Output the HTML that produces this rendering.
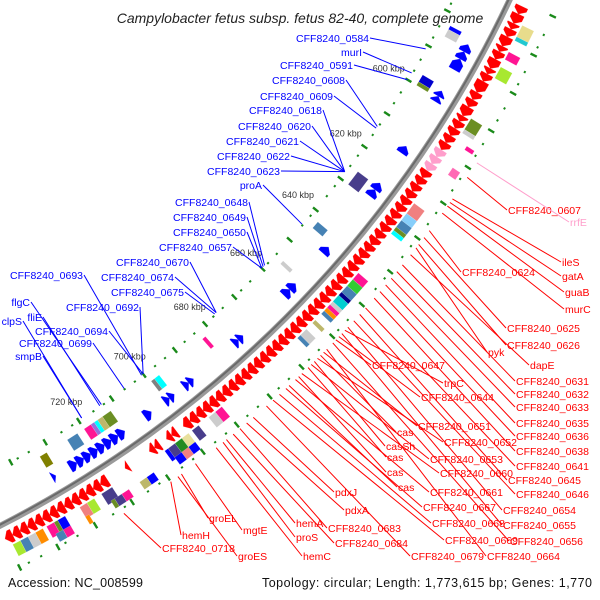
<!DOCTYPE html>
<html><head><meta charset="utf-8"><style>
html,body{margin:0;padding:0;background:#fff;width:600px;height:600px;overflow:hidden}
svg{display:block}
text{font-family:"Liberation Sans",sans-serif}
</style></head><body>
<svg id="map" width="600" height="600" viewBox="0 0 600 600" xmlns="http://www.w3.org/2000/svg">
<rect width="600" height="600" fill="#fff"/>
<g id="tracks"></g>
<g id="labels"></g>
<text x="300" y="23" text-anchor="middle" font-size="14" font-style="italic" fill="#222">Campylobacter fetus subsp. fetus 82-40, complete genome</text>
<text x="8" y="587" font-size="12.5" fill="#111" textLength="135">Accession: NC_008599</text>
<text x="592" y="587" font-size="12.5" fill="#111" text-anchor="end" textLength="330">Topology: circular; Length: 1,773,615 bp; Genes: 1,770</text>
</svg>
<script>
// ---- data (kbp) ----
const redGenes=[[571,573],[573,575.5],[575.5,577],[577,579],[579,581.5],[581.5,583],[583,585],[585,587.5],[587.5,589],[589,591],[591,594],[594,596],[596,598],[598,600.5],[600.5,602],[602,604],[604,606],[606,608],[608,610],[616,618],[618,620],[620,622],[622,624],[624,626],[626,628],[628,630],[630,632],[632,634],[634,636],[636,638],[638,640],[640,642],[642,644],[644,646],[646,648],[648,650],[650,652],[652,654],[654,656],[656,658],[658,660],[660,662],[662,664],[664,666],[666,668],[668,670],[670,672],[672,674],[674,676],[676,678],[678,680],[680,682],[682,684],[684,686],[686,688],[688,690],[690,692],[692,694],[694,696],[696,698],[698,700],[702,703.5],[703.5,705],[707,708.5],[708.5,710],[716,717],[722,724],[724,726],[726,728],[728,730],[730,732],[732,734],[734,736],[736,738],[738,740],[740,742],[742,744],[744,746],[746,748],[748,750]];
const pinkGenes=[[610,612],[612,614],[614,616]];
const blueGenes=[[585,587],[587,589],[589,592],[598,599.5],[599.5,601],[614,616],[625,627],[627,629],[645,647],[657,659],[659,661],[675,676.5],[676.5,678],[691,692.5],[692.5,694],[697,698.5],[698.5,700],[704,706],[712,714],[714,716],[716,718],[718,720],[720,722],[722,724],[724,726],[726,728],[732,733]];
const outerBoxes=[[575,578,"#e8dc8c"],[578,579,"#20c8d0"],[582,584,"#ff1493"],[586,589,"#a8e830"],[600,603,"#6b8e23"],[603,604,"#cccccc"],[624,627,"#f08080"],[627,629,"#87cefa"],[629,631,"#4682b4"],[631,632,"#6b8e23"],[632,633,"#00ffff"],[645,647,"#ff1493"],[647,649,"#32cd32"],[649,651,"#4682b4"],[651,652,"#00008b"],[652,654,"#00ced1"],[654,655,"#cccccc"],[655,656,"#ff1493"],[656,657,"#ff8c00"],[657,658,"#4682b4"],[660,661,"#bdb76b"],[663,665,"#cccccc"],[665,666,"#4682b4"],[690,692,"#ff1493"],[692,694,"#cccccc"],[697,699,"#483d8b"],[700,702,"#e8e09c"],[702,704,"#228b22"],[704,706,"#483d8b"],[706,707,"#0000ff"],[722,725,"#483d8b"],[727,729,"#a8e830"],[729,731,"#f08080"],[735,737,"#0000ff"],[737,738,"#6b8e23"],[738,740,"#ff1493"],[741,743,"#ff8c00"],[743,745,"#cccccc"],[745,747,"#4682b4"],[747,749,"#a8e830"]];
const outer2Boxes=[[606,607,"#ff1493"],[612,614,"#ff69b4"],[700,702,"#0000ff"],[702,704,"#f08080"],[704,706,"#0000ff"],[712,714,"#0000ff"],[714,716,"#bdb76b"],[719,721,"#ff1493"],[721,723,"#483d8b"],[723,724,"#6b8e23"],[730,731,"#ff8c00"],[735,737,"#ff1493"],[737,739,"#4682b4"]];
const innerBoxes=[[583,584,"#0000ff"],[584,586,"#cccccc"],[597,599,"#0000cd"],[599,600,"#6b8e23"],[626,630,"#483d8b"],[642,644,"#4682b4"],[655,656,"#cccccc"],[682,683,"#ff1493"],[697,698.5,"#00ffff"],[698.5,699.5,"#808080"],[712,714.5,"#6b8e23"],[714.5,716,"#bdb76b"],[716,717,"#00ffff"],[717,718,"#9370db"],[718,720,"#ff1493"],[722,725,"#4682b4"],[731,733,"#808000"]];
const tickKbp=[600,620,640,660,680,700,720];
const tickLabels=["600 kbp","620 kbp","640 kbp","660 kbp","680 kbp","700 kbp","720 kbp"];
const innerLabelText=["CFF8240_0584","murI","CFF8240_0591","CFF8240_0608","CFF8240_0609","CFF8240_0618","CFF8240_0620","CFF8240_0621","CFF8240_0622","CFF8240_0623","proA","CFF8240_0648","CFF8240_0649","CFF8240_0650","CFF8240_0657","CFF8240_0670","CFF8240_0674","CFF8240_0675","CFF8240_0692","CFF8240_0693","flgC","fliE","clpS","CFF8240_0694","CFF8240_0699","smpB"];
const innerLabelKbp=[591,598,600,614,614.5,628,628,628,628,628,645,659,659.5,660,660,676,676,676.5,700,700.5,713,713.5,719,700,706,719];
const innerLabelPos=[[369,42],[362,56],[353,69],[345,84],[333,100],[322,114],[311,130],[299,145],[290,160],[280,175],[262,189],[248,206],[246,221],[246,236],[232,251],[189,266],[174,281],[184,296],[139,311],[83,279],[30,306],[42,321],[22,325],[108,335],[92,347],[42,360]];
const outerLabelText=["CFF8240_0607","rrfE","ileS","gatA","CFF8240_0624","guaB","murC","CFF8240_0625","CFF8240_0626","pyk","dapE","CFF8240_0647","CFF8240_0631","trpC","CFF8240_0632","CFF8240_0644","CFF8240_0633","CFF8240_0635","CFF8240_0651","cas","CFF8240_0636","CFF8240_0652","casSh","CFF8240_0638","CFF8240_0653","cas","CFF8240_0641","CFF8240_0660","cas","CFF8240_0645","CFF8240_0661","cas","CFF8240_0646","CFF8240_0654","CFF8240_0667","CFF8240_0655","CFF8240_0668","CFF8240_0656","CFF8240_0669","CFF8240_0664","CFF8240_0679","pdxJ","pdxA","CFF8240_0683","CFF8240_0684","hemA","proS","hemC","mgtE","groEL","groES","hemH","CFF8240_0718"];
const outerLabelKbp=[612,608,618,619,627,620,622,629,631,632,634,660,637,657,639,659,641,643,664,665,645,666,667,647,668,669,650,671,672,652,673,675,654,656,676,658,678,661,680,663,682,686,688,690,692,694,695,697,703,707,708,710,723];
const outerLabelPos=[[508,214],[570,226],[562,266],[562,280],[462,276],[565,296],[565,313],[507,332],[507,349],[488,356],[530,369],[372,369],[516,385],[444,387],[516,398],[421,401],[516,411],[516,427],[418,430],[397,436],[516,440],[444,446],[386,450],[516,455],[430,463],[387,461],[516,470],[440,477],[387,476],[508,484],[430,496],[398,491],[516,498],[503,514],[423,511],[503,529],[432,527],[510,545],[445,544],[487,560],[411,560],[335,496],[345,514],[328,532],[335,547],[296,527],[296,541],[303,560],[243,534],[209,522],[238,560],[182,539],[162,552]];

// ---- geometry ----
const CX=-516, CY=-484;
const A0=31.4, DEG_PER_KBP=0.2107;
const ang=k=>(A0+(k-600)*DEG_PER_KBP)*Math.PI/180;
const pt=(r,k)=>{const a=ang(k);return [CX+r*Math.cos(a),CY+r*Math.sin(a)];};
const ptA=(r,a)=>[CX+r*Math.cos(a),CY+r*Math.sin(a)];
const NS="http://www.w3.org/2000/svg";
const tracks=document.getElementById('tracks');
const labels=document.getElementById('labels');
function mk(tag,attrs,parent){const e=document.createElementNS(NS,tag);for(const k in attrs)e.setAttribute(k,attrs[k]);parent.appendChild(e);return e;}
const f=v=>v.toFixed(2);

function arrow(s,e,rc,h,fill,fwd){
  const ri=rc-h/2, ro=rc+h/2, a0=ang(s), a1=ang(e), hl=5/rc;
  let p;
  if(fwd){const ah=Math.max(a0,a1-hl);
    const q=[ptA(ri,a0),ptA(ri,ah),ptA(rc,a1),ptA(ro,ah),ptA(ro,a0)];
    p=`M${f(q[0][0])},${f(q[0][1])}A${ri},${ri} 0 0 1 ${f(q[1][0])},${f(q[1][1])}L${f(q[2][0])},${f(q[2][1])}L${f(q[3][0])},${f(q[3][1])}A${ro},${ro} 0 0 0 ${f(q[4][0])},${f(q[4][1])}Z`;
  } else {const ah=Math.min(a1,a0+hl);
    const q=[ptA(rc,a0),ptA(ri,ah),ptA(ri,a1),ptA(ro,a1),ptA(ro,ah)];
    p=`M${f(q[0][0])},${f(q[0][1])}L${f(q[1][0])},${f(q[1][1])}A${ri},${ri} 0 0 1 ${f(q[2][0])},${f(q[2][1])}L${f(q[3][0])},${f(q[3][1])}A${ro},${ro} 0 0 0 ${f(q[4][0])},${f(q[4][1])}Z`;
  }
  return mk('path',{d:p,fill:fill,stroke:fill,'stroke-width':0.4,'stroke-opacity':0.6},tracks);
}
function box(s,e,rc,h,fill){
  const ri=rc-h/2, ro=rc+h/2;
  const q=[pt(ri,s),pt(ri,e),pt(ro,e),pt(ro,s)];
  return mk('path',{d:`M${f(q[0][0])},${f(q[0][1])}A${ri},${ri} 0 0 1 ${f(q[1][0])},${f(q[1][1])}L${f(q[2][0])},${f(q[2][1])}A${ro},${ro} 0 0 0 ${f(q[3][0])},${f(q[3][1])}Z`,fill:fill,stroke:'#fff','stroke-width':0.3,'stroke-opacity':0.5},tracks);
}

// backbone
let bb=mk('circle',{cx:CX,cy:CY,r:1134,fill:'none',stroke:'#9a9a9a','stroke-width':6},tracks);


let bb2=mk('circle',{cx:CX,cy:CY,r:1133,fill:'none',stroke:'#6a6a6a','stroke-width':2},tracks);



// green dots and ticks
for(let k=571.6;k<=752;k+=3.2){
  if(Math.abs(k/10-Math.round(k/10))*10<1.7) continue;
  [1083,1180].forEach(r=>{
    const a=pt(r-1,k),b=pt(r+1,k);
    const d=mk('line',{x1:f(a[0]),y1:f(a[1]),x2:f(b[0]),y2:f(b[1]),stroke:'#1a8a1a','stroke-width':2.2},tracks);
    
    
  });
}
for(let k=570;k<=750;k+=10){
  [1083,1180].forEach(r=>{
    const a=pt(r-3.5,k),b=pt(r+3.5,k);
    const d=mk('line',{x1:f(a[0]),y1:f(a[1]),x2:f(b[0]),y2:f(b[1]),stroke:'#1a8a1a','stroke-width':2.4},tracks);
    
    
  });
}
tickKbp.forEach((k,i)=>{
  const p=pt(1060,k);
  const t=mk('text',{x:f(p[0]),y:f(p[1]+3),'text-anchor':'middle','font-size':9,fill:'#333'},tracks);
  t.textContent=tickLabels[i];
  
  
});

redGenes.forEach(g=>{const e=arrow(g[0],g[1],1148,13,'#ff0000',true);
  
  });
pinkGenes.forEach(g=>{const e=arrow(g[0],g[1],1148,13,'#ff9ecb',true);
  
  });
blueGenes.forEach(g=>{const e=arrow(g[0],g[1],1117,12,'#0000ff',false);
  
  });
outerBoxes.forEach(b=>{const e=box(b[0],b[1],1163,13,b[2]);
  
  });
outer2Boxes.forEach(b=>{const e=box(b[0],b[1],1172,9,b[2]);
  
  });
innerBoxes.forEach(b=>{const e=box(b[0],b[1],1099,13,b[2]);
  
  });

// labels
innerLabelText.forEach((txt,i)=>{
  const [x,y]=innerLabelPos[i]; const p=pt(1082,innerLabelKbp[i]);
  const l=mk('line',{x1:x+1,y1:y-4,x2:f(p[0]),y2:f(p[1]),stroke:'#0000ff','stroke-width':1},labels);
  
  
  const t=mk('text',{x:x,y:y,'text-anchor':'end','font-size':10.5,fill:'#0000ff'},labels);
  t.textContent=txt;
  
  
});
outerLabelText.forEach((txt,i)=>{
  const [x,y]=outerLabelPos[i]; const p=pt(1185,outerLabelKbp[i]);
  const col=txt==='rrfE'?'#ff9ecb':'#ff0000';
  const l=mk('line',{x1:f(p[0]),y1:f(p[1]),x2:x-1,y2:y-4,stroke:col,'stroke-width':1},labels);
  
  
  const t=mk('text',{x:x,y:y,'font-size':10.5,fill:col},labels);
  t.textContent=txt;
  
  
});
</script>
</body></html>
